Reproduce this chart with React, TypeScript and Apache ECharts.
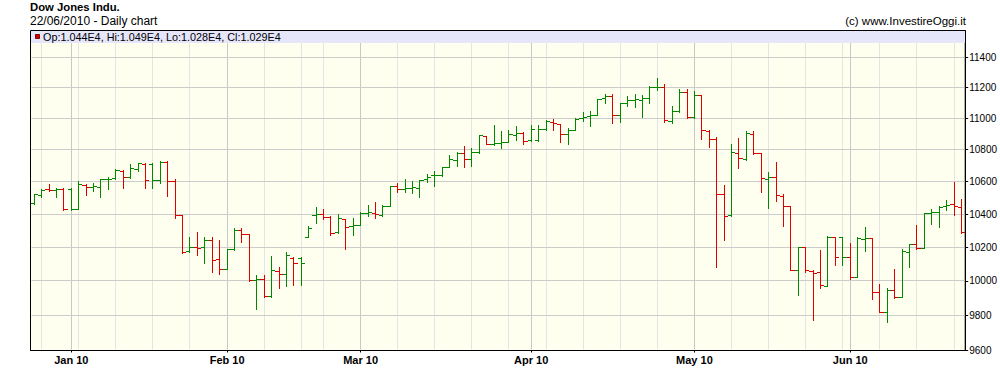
import React, { useEffect, useRef } from "react";
import * as echarts from "echarts";

// Trading sessions shown on the chart (year-month -> days)
const MONTH_DAYS: [string, number[]][] = [
  ["2009-12", [24, 28, 29, 30, 31]],
  ["2010-01", [1, 4, 5, 6, 7, 8, 11, 12, 13, 14, 15, 18, 19, 20, 21, 22, 25, 26, 27, 28, 29]],
  ["2010-02", [1, 2, 3, 4, 5, 8, 9, 10, 11, 12, 15, 17, 18, 22, 23, 24, 25, 26]],
  ["2010-03", [1, 2, 3, 4, 5, 8, 9, 10, 11, 12, 15, 16, 17, 18, 19, 22, 23, 24, 25, 26, 29, 30, 31]],
  ["2010-04", [1, 2, 5, 6, 7, 8, 9, 12, 13, 14, 15, 16, 19, 20, 21, 22, 23, 26, 27, 28, 29, 30]],
  ["2010-05", [3, 4, 5, 6, 7, 10, 11, 12, 13, 14, 17, 18, 19, 20, 21, 24, 25, 26, 27, 28, 31]],
  ["2010-06", [1, 2, 3, 4, 7, 8, 9, 10, 11, 14, 15, 16, 17, 18, 21, 22]],
];

const OPEN = [
  10465, 10515, 10550, 10545, 10550, 10550, 10430, 10575, 10565, 10565,
  10610, 10620, 10665, 10625, 10675, 10705, 10705, 10605, 10720, 10600,
  10390, 10175, 10200, 10195, 10240, 10125, 10070, 10185, 10300, 10275,
  10000, 10010, 9908, 10055, 10035, 10135, 10135, 10260, 10390, 10400,
  10380, 10285, 10365, 10325, 10330, 10404, 10406, 10390, 10445, 10568,
  10550, 10555, 10558, 10615, 10635, 10638, 10686, 10731, 10777, 10737,
  10781, 10885, 10832, 10839, 10847, 10888, 10905, 10860, 10860, 10930,
  10975, 10960, 10897, 10923, 10998, 11013, 11019, 11128, 11143, 11021,
  11094, 11115, 11115, 11128, 11200, 11202, 10983, 11043, 11166, 11004,
  11147, 10918, 10862, 10517, 10388, 10777, 10737, 10897, 10773, 10613,
  10627, 10507, 10444, 10064, 10196, 10056, 10050, 9970, 10256, 10256,
  10136, 10020, 10246, 10250, 9930, 9815, 9943, 9902, 10168, 10216,
  10190, 10404, 10412, 10446, 10457, 10440,
];
const HIGH = [
  10520, 10550, 10580, 10555, 10555, 10555, 10600, 10580, 10590, 10615,
  10625, 10675, 10668, 10705, 10715, 10710, 10710, 10725, 10725, 10610,
  10392, 10255, 10285, 10255, 10260, 10240, 10185, 10315, 10310, 10278,
  10030, 10030, 10145, 10080, 10165, 10140, 10140, 10325, 10440, 10430,
  10385, 10395, 10368, 10370, 10410, 10455, 10470, 10450, 10570, 10590,
  10615, 10600, 10608, 10645, 10660, 10690, 10765, 10780, 10820, 10810,
  10890, 10887, 10955, 10915, 10920, 10945, 10908, 10955, 10955, 10985,
  10990, 10963, 10935, 11000, 11035, 11043, 11125, 11155, 11153, 11094,
  11143, 11153, 11149, 11207, 11260, 11218, 11077, 11191, 11191, 11174,
  11149, 10923, 10875, 10578, 10831, 10873, 10914, 10918, 10777, 10658,
  10721, 10521, 10446, 10196, 10198, 10060, 10180, 10264, 10260, 10260,
  10224, 10256, 10316, 10252, 9981, 9953, 10066, 10184, 10216, 10330,
  10406, 10430, 10444, 10485, 10596, 10490,
];
const LOW = [
  10460, 10500, 10540, 10500, 10420, 10420, 10425, 10515, 10540, 10500,
  10550, 10615, 10560, 10620, 10660, 10555, 10555, 10585, 10510, 10375,
  10160, 10165, 10150, 10105, 10050, 10040, 10065, 10180, 10230, 9998,
  9835, 9905, 9905, 9955, 9970, 9975, 9975, 10258, 10340, 10365,
  10270, 10280, 10185, 10270, 10328, 10385, 10375, 10386, 10444, 10535,
  10530, 10525, 10500, 10592, 10570, 10633, 10685, 10695, 10690, 10692,
  10779, 10830, 10828, 10810, 10845, 10860, 10830, 10855, 10855, 10925,
  10925, 10845, 10835, 10920, 10983, 10945, 11018, 11095, 10970, 10972,
  11075, 11068, 11008, 11098, 11183, 10972, 10966, 11036, 11000, 11002,
  10862, 10811, 10080, 10240, 10386, 10679, 10733, 10769, 10531, 10434,
  10477, 10326, 10062, 9915, 10050, 9773, 9953, 9968, 10090, 10090,
  10006, 10018, 10176, 9891, 9815, 9758, 9900, 9901, 10080, 10184,
  10189, 10334, 10320, 10424, 10394, 10280,
];
const CLOSE = [
  10520, 10547, 10545, 10550, 10430, 10430, 10580, 10565, 10570, 10610,
  10615, 10670, 10625, 10680, 10710, 10605, 10605, 10720, 10600, 10390,
  10170, 10195, 10193, 10240, 10120, 10065, 10185, 10300, 10275, 10002,
  10010, 9910, 10060, 10035, 10150, 10100, 10100, 10310, 10400, 10380,
  10280, 10375, 10320, 10330, 10405, 10408, 10395, 10445, 10567, 10550,
  10560, 10562, 10608, 10625, 10640, 10685, 10735, 10775, 10735, 10785,
  10888, 10830, 10840, 10845, 10895, 10905, 10855, 10930, 10930, 10980,
  10970, 10895, 10925, 10995, 11005, 11020, 11120, 11145, 11020, 11094,
  11115, 11121, 11132, 11202, 11202, 10989, 11043, 11166, 11004, 11149,
  10923, 10865, 10521, 10384, 10783, 10744, 10901, 10777, 10619, 10627,
  10511, 10444, 10064, 10196, 10064, 10044, 9972, 10260, 10136, 10136,
  10020, 10250, 10254, 9930, 9815, 9943, 9902, 10176, 10216, 10190,
  10406, 10412, 10440, 10454, 10446, 10290,
];

const Y_TICKS = [9600, 9800, 10000, 10200, 10400, 10600, 10800, 11000, 11200, 11400];
const Y_MIN = 9600;
const Y_MAX = 11582;
const MONTH_NAMES = ["Jan", "Feb", "Mar", "Apr", "May", "Jun", "Jul", "Aug", "Sep", "Oct", "Nov", "Dec"];

const TITLE = "Dow Jones Indu.";
const SUBTITLE = "22/06/2010 - Daily chart";
const COPYRIGHT = "(c) www.InvestireOggi.it";

const CATEGORIES: string[] = [];
MONTH_DAYS.forEach(([ym, days]) => {
  days.forEach((d) => CATEGORIES.push(`${ym}-${String(d).padStart(2, "0")}`));
});

const monthOf = (s: string) => s.slice(0, 7);
const isMonthStart = (i: number) => i > 0 && monthOf(CATEGORIES[i]) !== monthOf(CATEGORIES[i - 1]);
const isMonday = (i: number) => {
  const [y, m, d] = CATEGORIES[i].split("-").map(Number);
  return new Date(Date.UTC(y, m - 1, d)).getUTCDay() === 1;
};

const GREEN = "#008800";
const RED = "#dd0000";
const FONT = '"Liberation Sans", Arial, Helvetica, sans-serif';

const crisp = (v: number) => Math.round(v - 0.5) + 0.5;
const fmtE4 = (v: number) => (v / 1e4).toFixed(3) + "E4";

export default function App() {
  const ref = useRef<HTMLDivElement>(null);

  useEffect(() => {
    if (!ref.current) return;
    const chart = echarts.init(ref.current, null, { renderer: "svg" });

    const ohlcData = CATEGORIES.map((_, i) => [
      i,
      Math.log(OPEN[i]),
      Math.log(HIGH[i]),
      Math.log(LOW[i]),
      Math.log(CLOSE[i]),
      i === 0 || CLOSE[i] >= CLOSE[i - 1] ? 1 : 0,
    ]);

    const vGridData: number[][] = [];
    CATEGORIES.forEach((_, i) => {
      if (i > 0 && (isMonthStart(i) || isMonday(i))) {
        vGridData.push([i, Math.log(Y_MIN), isMonthStart(i) ? 1 : 0]);
      }
    });
    const hGridData = Y_TICKS.map((v) => [0, Math.log(v)]);

    const last = CATEGORIES.length - 1;
    const legendText = `Op:${fmtE4(OPEN[last])}, Hi:${fmtE4(HIGH[last])}, Lo:${fmtE4(LOW[last])}, Cl:${fmtE4(CLOSE[last])}`;

    const option: any = {
      animation: false,
      backgroundColor: "#ffffff",
      textStyle: { fontFamily: FONT },
      grid: {
        left: 30.5,
        right: 34.5,
        top: 30.5,
        bottom: 35.5,
        show: true,
        backgroundColor: "#fffff0",
        borderColor: "#000000",
        borderWidth: 1,
      },
      xAxis: {
        type: "category",
        data: CATEGORIES,
        boundaryGap: true,
        axisLine: { show: true, lineStyle: { color: "#000000", width: 1 } },
        axisTick: {
          show: true,
          alignWithLabel: true,
          interval: (i: number) => isMonthStart(i),
          length: 2,
          lineStyle: { color: "#000000" },
        },
        axisLabel: {
          interval: (i: number) => isMonthStart(i),
          formatter: (v: string) => {
            const [y, m] = v.split("-");
            return `${MONTH_NAMES[Number(m) - 1]} ${y.slice(2)}`;
          },
          fontFamily: FONT,
          fontWeight: "bold",
          fontSize: 11,
          color: "#000000",
          margin: 4,
        },
        splitLine: { show: false },
      },
      yAxis: {
        type: "value",
        position: "right",
        min: Math.log(Y_MIN),
        max: Math.log(Y_MAX),
        axisLine: { show: true, lineStyle: { color: "#000000", width: 1 } },
        axisTick: {
          show: true,
          inside: false,
          length: 3,
          customValues: Y_TICKS.map((v) => Math.log(v)),
          lineStyle: { color: "#000000" },
        },
        axisLabel: {
          customValues: Y_TICKS.map((v) => Math.log(v)),
          formatter: (v: number) => String(Math.round(Math.exp(v))),
          fontFamily: FONT,
          fontSize: 10,
          color: "#000000",
          margin: 4,
        },
        splitLine: { show: false },
      },
      graphic: [
        {
          type: "rect",
          z: 100,
          shape: { x: 31, y: 31, width: 934, height: 12 },
          style: { fill: "#e6e6fa" },
          silent: true,
        },
        {
          type: "rect",
          z: 101,
          shape: { x: 35.5, y: 34.5, width: 4, height: 4 },
          style: { fill: "#cc0000", stroke: "#8a0000", lineWidth: 1 },
          silent: true,
        },
        {
          type: "text",
          z: 101,
          x: 43,
          y: 37,
          style: {
            text: legendText,
            font: `10.8px ${FONT}`,
            fill: "#000000",
            textAlign: "left",
            textVerticalAlign: "middle",
          },
          silent: true,
        },
        {
          type: "text",
          z: 101,
          x: 30,
          y: 1,
          style: {
            text: TITLE,
            font: `bold 11.3px ${FONT}`,
            fill: "#000000",
            textAlign: "left",
            textVerticalAlign: "top",
          },
          silent: true,
        },
        {
          type: "text",
          z: 101,
          x: 30,
          y: 15,
          style: {
            text: SUBTITLE,
            font: `12px ${FONT}`,
            fill: "#000000",
            textAlign: "left",
            textVerticalAlign: "top",
          },
          silent: true,
        },
        {
          type: "text",
          z: 101,
          x: 966,
          y: 15,
          style: {
            text: COPYRIGHT,
            font: `11.5px ${FONT}`,
            fill: "#000000",
            textAlign: "right",
            textVerticalAlign: "top",
          },
          silent: true,
        },
      ],
      series: [
        {
          type: "custom",
          name: "vgrid",
          z: 1,
          silent: true,
          data: vGridData,
          encode: { x: 0, y: 1 },
          renderItem: (params: any, api: any) => {
            const cs = params.coordSys;
            const p = api.coord([api.value(0), api.value(1)]);
            const x = crisp(p[0]);
            return {
              type: "line",
              shape: { x1: x, y1: cs.y + 1, x2: x, y2: cs.y + cs.height - 1 },
              style: { stroke: api.value(2) ? "#c8c8c8" : "#e4e4e4", lineWidth: 1 },
            };
          },
        },
        {
          type: "custom",
          name: "hgrid",
          z: 1,
          silent: true,
          data: hGridData,
          encode: { x: 0, y: 1 },
          renderItem: (params: any, api: any) => {
            const cs = params.coordSys;
            const p = api.coord([api.value(0), api.value(1)]);
            const y = crisp(p[1]);
            if (y >= cs.y + cs.height - 1) return null;
            return {
              type: "line",
              shape: { x1: cs.x + 1, y1: y, x2: cs.x + cs.width - 1, y2: y },
              style: { stroke: "#cccccc", lineWidth: 1 },
            };
          },
        },
        {
          type: "custom",
          name: "Dow Jones Indu.",
          z: 3,
          data: ohlcData,
          encode: { x: 0, y: [1, 2, 3, 4] },
          renderItem: (params: any, api: any) => {
            const i = api.value(0);
            const pO = api.coord([i, api.value(1)]);
            const pH = api.coord([i, api.value(2)]);
            const pL = api.coord([i, api.value(3)]);
            const pC = api.coord([i, api.value(4)]);
            const band = api.size([1, 0])[0];
            const half = band / 2;
            const x = crisp(pO[0]);
            const color = api.value(5) ? GREEN : RED;
            const style = { stroke: color, lineWidth: 1 };
            const yH = Math.floor(pH[1]);
            const yL = Math.ceil(pL[1]);
            return {
              type: "group",
              children: [
                { type: "line", shape: { x1: x, y1: yH, x2: x, y2: Math.max(yL, yH + 1) }, style },
                { type: "line", shape: { x1: Math.round(pO[0] - half), y1: crisp(pO[1]), x2: x, y2: crisp(pO[1]) }, style },
                { type: "line", shape: { x1: x, y1: crisp(pC[1]), x2: Math.round(pO[0] + half), y2: crisp(pC[1]) }, style },
              ],
            };
          },
        },
      ],
    };

    chart.setOption(option);
    return () => chart.dispose();
  }, []);

  return (
    <div
      ref={ref}
      style={{ position: "absolute", left: 0, top: 0, width: 1000, height: 386, background: "#ffffff" }}
    />
  );
}
